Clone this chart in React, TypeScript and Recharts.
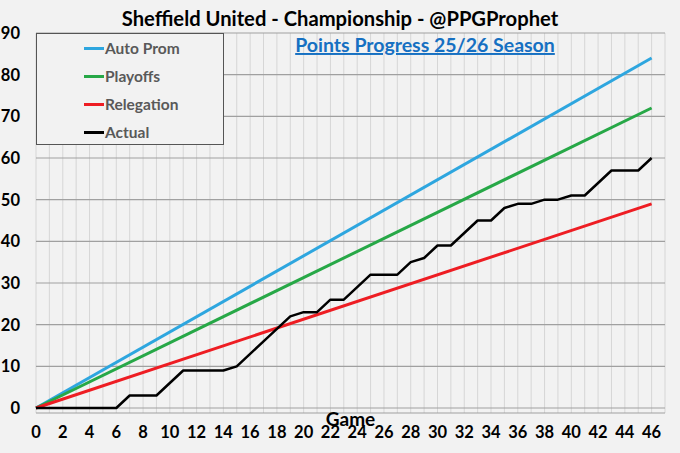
import React from 'react';
import { LineChart, Line, XAxis, YAxis, CartesianGrid, Legend } from 'recharts';

const games = [0,1,2,3,4,5,6,7,8,9,10,11,12,13,14,15,16,17,18,19,20,21,22,23,24,25,26,27,28,29,30,31,32,33,34,35,36,37,38,39,40,41,42,43,44,45,46];
const actualPoints = [0,0,0,0,0,0,0,3,3,3,6,9,9,9,9,10,13,16,19,22,23,23,26,26,29,32,32,32,35,36,39,39,42,45,45,48,49,49,50,50,51,51,54,57,57,57,60];

const targetGames = [0, 46];
const autoPromPoints = [0, 84];
const playoffPoints = [0, 72];
const relegationPoints = [0, 49];

const xGridTicks = [0,1,2,3,4,5,6,7,8,9,10,11,12,13,14,15,16,17,18,19,20,21,22,23,24,25,26,27,28,29,30,31,32,33,34,35,36,37,38,39,40,41,42,43,44,45,46,47];
const xLabelTicks = [0,2,4,6,8,10,12,14,16,18,20,22,24,26,28,30,32,34,36,38,40,42,44,46];
const yTicks = [0,10,20,30,40,50,60,70,80,90];

const seriesNames = ['Auto Prom', 'Playoffs', 'Relegation', 'Actual'];
const seriesColors = ['#2ea6df', '#27a847', '#ee1d23', '#000000'];

const actualData = games.map((g, i) => ({ game: g, value: actualPoints[i] }));
const autoData = targetGames.map((g, i) => ({ game: g, value: autoPromPoints[i] }));
const playoffData = targetGames.map((g, i) => ({ game: g, value: playoffPoints[i] }));
const relegationData = targetGames.map((g, i) => ({ game: g, value: relegationPoints[i] }));

const FONT = 'Lato, "Open Sans", sans-serif';

const XTick = (props: any) => {
  const { x, y, payload } = props;
  if (!xLabelTicks.includes(payload.value)) return null;
  return (
    <text x={x} y={y} dy="0.71em" textAnchor="middle" fill="#000" fontSize={16.5} fontWeight={700} fontFamily={FONT}>
      {payload.value}
    </text>
  );
};

const LegendBox = (props: any) => {
  const payload = props.payload || [];
  const items = seriesNames.map((n) => payload.find((p: any) => p.value === n)).filter(Boolean);
  return (
    <div style={{ width: 186, height: 110, background: '#f2f2f2', border: '1px solid #555', position: 'relative', boxSizing: 'content-box' }}>
      {items.map((p: any, i: number) => (
        <div key={p.value} style={{ position: 'absolute', left: 47, top: 14 + i * 28 - 10, height: 20, display: 'flex', alignItems: 'center' }}>
          <div style={{ width: 20, height: 3, background: p.color, marginRight: 1 }} />
          <span style={{ fontFamily: FONT, fontWeight: 700, fontSize: 15.5, color: '#595959' }}>{p.value}</span>
        </div>
      ))}
    </div>
  );
};

export default function App() {
  return (
    <div style={{ position: 'absolute', left: 0, top: 0, width: 680, height: 453, background: '#f2f2f2' }}>
      <LineChart width={680} height={453} margin={{ top: 33, right: 15, bottom: 0, left: 0 }}>
        <CartesianGrid horizontal={false} stroke="#d6d6d6" strokeWidth={1} />
        <CartesianGrid vertical={false} stroke="#a0a0a0" strokeWidth={1.2} />
        <XAxis
          type="number"
          dataKey="game"
          domain={[0, 47]}
          ticks={xGridTicks}
          interval={0}
          height={40}
          axisLine={false}
          tickLine={false}
          tickSize={0}
          tickMargin={13}
          tick={<XTick />}
          allowDuplicatedCategory={false}
          label={{ value: 'Game', position: 'insideTop', offset: 0, fill: '#000', fontSize: 19, fontWeight: 700, fontFamily: FONT }}
        />
        <YAxis
          type="number"
          domain={[-1.2, 90]}
          ticks={yTicks}
          interval={0}
          width={36}
          axisLine={false}
          tickLine={false}
          tickSize={0}
          tickMargin={16}
          allowDataOverflow
          tick={{ fill: '#000', fontSize: 16.5, fontWeight: 700, fontFamily: FONT }}
        />
        <Legend
          layout="horizontal"
          align="center"
          verticalAlign="middle"
          wrapperStyle={{ position: 'absolute', left: 36, top: 33, width: 'auto', height: 'auto' }}
          content={<LegendBox />}
        />
        <Line data={autoData} dataKey="value" name={seriesNames[0]} stroke={seriesColors[0]} strokeWidth={3} dot={false} isAnimationActive={false} />
        <Line data={playoffData} dataKey="value" name={seriesNames[1]} stroke={seriesColors[1]} strokeWidth={3} dot={false} isAnimationActive={false} />
        <Line data={relegationData} dataKey="value" name={seriesNames[2]} stroke={seriesColors[2]} strokeWidth={3} dot={false} isAnimationActive={false} />
        <Line data={actualData} dataKey="value" name={seriesNames[3]} stroke={seriesColors[3]} strokeWidth={2.5} dot={false} isAnimationActive={false} strokeLinejoin="round" />
        <text x={340} y={26} textAnchor="middle" fontFamily={FONT} fontWeight={700} fontSize={20.2} fill="#000">
          Sheffield United - Championship - @PPGProphet
        </text>
        <text x={425} y={52} textAnchor="middle" fontFamily={FONT} fontWeight={700} fontSize={19.5} fill="#1670c2" textDecoration="underline">
          Points Progress 25/26 Season
        </text>
      </LineChart>
    </div>
  );
}
